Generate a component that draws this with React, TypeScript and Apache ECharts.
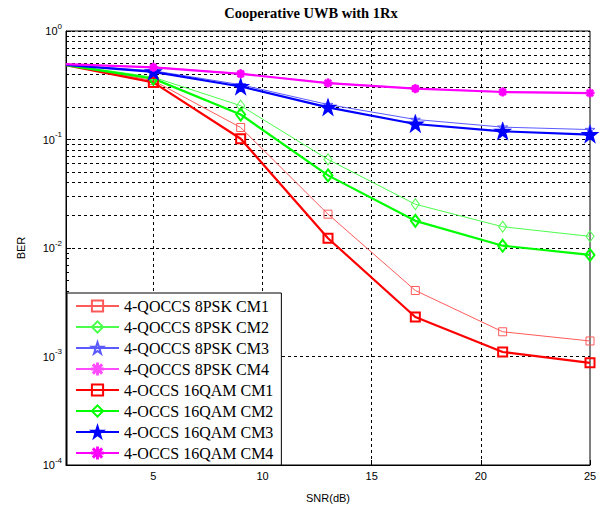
import React, { useEffect, useRef } from "react";
import * as echarts from "echarts";

// ---- data ----
const snr = [1, 5, 9, 13, 17, 21, 25];
const qoccsCM1 = [0.49, 0.349, 0.129, 0.0205, 0.00406, 0.00169, 0.00139];
const qoccsCM2 = [0.49, 0.375, 0.205, 0.0655, 0.0253, 0.0157, 0.0128];
const qoccsCM3 = [0.49, 0.43, 0.32, 0.21, 0.153, 0.13, 0.1235];
const qoccsCM4 = [0.492, 0.465, 0.405, 0.333, 0.296, 0.276, 0.27];
const occsCM1 = [0.485, 0.336, 0.1015, 0.0123, 0.00231, 0.0011, 0.000875];
const occsCM2 = [0.485, 0.364, 0.17, 0.0467, 0.0178, 0.0105, 0.00863];
const occsCM3 = [0.487, 0.42, 0.308, 0.198, 0.139, 0.119, 0.111];
const occsCM4 = [0.495, 0.463, 0.403, 0.331, 0.294, 0.274, 0.268];

const seriesNames = [
  "4-QOCCS 8PSK CM1",
  "4-QOCCS 8PSK CM2",
  "4-QOCCS 8PSK CM3",
  "4-QOCCS 8PSK CM4",
  "4-OCCS 16QAM CM1",
  "4-OCCS 16QAM CM2",
  "4-OCCS 16QAM CM3",
  "4-OCCS 16QAM CM4",
];
const xTicks = [5, 10, 15, 20, 25];
const xGrid = [5, 10, 15, 20];
const decades = [-4, -3, -2, -1];
const mantissas = [2, 3, 4, 5, 6, 7, 8, 9];
const titleText = "Cooperative UWB with 1Rx";

const STAR =
  "path://M50,0 L61.8,35.3 L98.9,35.3 L69,57.1 L80.3,92.7 L50,70.9 L19.7,92.7 L31,57.1 L1.1,35.3 L38.2,35.3 Z";
const ASTER =
  "path://M46,0 L54,0 L54,100 L46,100 Z M0,46 L100,46 L100,54 L0,54 Z M18,12 L88,82 L82,88 L12,18 Z M82,12 L88,18 L18,88 L12,82 Z";

export default function App() {
  const ref = useRef<HTMLDivElement>(null);
  useEffect(() => {
    document.body.style.margin = "0";
    if (!ref.current) return;
    const chart = echarts.init(ref.current, null, { renderer: "svg" });

    const minorVals: number[] = [];
    decades.forEach((e) => mantissas.forEach((m) => minorVals.push(m * Math.pow(10, e))));

    const dashed = { color: "#000", type: [3, 3] as any, width: 1 };

    const mk = (
      name: string,
      data: number[],
      color: string,
      thick: boolean,
      symbol: string,
      size: any,
      filled: boolean
    ) => ({
      name,
      type: "line",
      data: snr.map((x, i) =>
        i === 0 ? { value: [x, data[i]], symbol: "none" } : { value: [x, data[i]] }
      ),
      symbol,
      symbolSize: size,
      showAllSymbol: true,
      z: thick ? 4 : 3,
      lineStyle: { color, width: thick ? 2.2 : 1 },
      itemStyle: {
        color: filled ? color : "rgba(255,255,255,0)",
        borderColor: color,
        borderWidth: thick ? 2 : 1,
      },
      emphasis: { disabled: true },
    });

    const series: any[] = [
      mk(seriesNames[0], qoccsCM1, "#ff5a5a", false, "rect", 8, false),
      mk(seriesNames[1], qoccsCM2, "#4cff4c", false, "diamond", [8, 11], false),
      mk(seriesNames[2], qoccsCM3, "#5a5aff", false, STAR, 10, false),
      mk(seriesNames[3], qoccsCM4, "#ff4cff", false, ASTER, 8, true),
      mk(seriesNames[4], occsCM1, "#ff0000", true, "rect", 9, false),
      mk(seriesNames[5], occsCM2, "#00ff00", true, "diamond", [9, 12], false),
      mk(seriesNames[6], occsCM3, "#0000ff", true, STAR, 13, true),
      mk(seriesNames[7], occsCM4, "#ff00ff", true, ASTER, 7, true),
      {
        name: "grid",
        type: "line",
        data: [],
        z: 1,
        markLine: {
          silent: true,
          symbol: "none",
          z: 1,
          animation: false,
          label: { show: false },
          lineStyle: dashed,
          emphasis: { disabled: true },
          data: [
            ...minorVals.map((v) => ({ yAxis: v })),
            ...xGrid.map((v) => ({ xAxis: v })),
          ],
        },
      },
    ];

    chart.setOption({
      animation: false,
      backgroundColor: "#fff",
      graphic: [
        {
          type: "text",
          x: 311,
          y: 13,
          style: {
            text: titleText,
            align: "center",
            verticalAlign: "middle",
            fontFamily: "Liberation Serif",
            fontWeight: "bold",
            fontSize: 14.5,
            fill: "#000",
          },
        },
      ],
      grid: {
        left: 66,
        right: 18,
        top: 31,
        bottom: 41,
        show: true,
        borderColor: "#000",
        borderWidth: 1,
        backgroundColor: "#fff",
      },
      legend: {
        data: seriesNames,
        orient: "vertical",
        left: 67,
        top: 293,
        padding: [5, 8, 4, 8],
        itemWidth: 43,
        itemHeight: 14,
        itemGap: 5,
        backgroundColor: "#fff",
        borderColor: "#000",
        borderWidth: 1,
        borderRadius: 0,
        selectedMode: false,
        textStyle: { fontFamily: "Liberation Serif", fontSize: 16, color: "#000" },
      },
      xAxis: {
        type: "value",
        min: 1,
        max: 25,
        name: "SNR(dB)",
        nameLocation: "middle",
        nameGap: 27,
        nameTextStyle: { fontFamily: "Liberation Sans", fontSize: 11, color: "#000" },
        axisLine: { show: true, lineStyle: { color: "#000" } },
        axisTick: { show: true, inside: true, length: 5, customValues: xTicks, lineStyle: { color: "#000" } },
        axisLabel: {
          customValues: xTicks,
          color: "#000",
          fontFamily: "Liberation Sans",
          fontSize: 11,
          margin: 5,
        },
        splitLine: { show: false },
      },
      yAxis: [
        {
          type: "log",
          logBase: 10,
          min: 1e-4,
          max: 1,
          name: "BER",
          nameLocation: "middle",
          nameGap: 40,
          nameRotate: 90,
          nameTextStyle: { fontFamily: "Liberation Sans", fontSize: 11, color: "#000" },
          axisLine: { show: true, lineStyle: { color: "#000" } },
          axisTick: { show: true, inside: true, length: 5, lineStyle: { color: "#000" } },
          minorTick: { show: false },
          splitLine: { show: true, lineStyle: dashed },
          axisLabel: {
            margin: 4,
            formatter: (v: number) => {
              const e = Math.round(Math.log10(v));
              return `{b|10}{s|${e}}`;
            },
            rich: {
              b: { fontFamily: "Liberation Sans", fontSize: 11, color: "#000", lineHeight: 18 },
              s: { fontFamily: "Liberation Sans", fontSize: 8, color: "#000", lineHeight: 8, verticalAlign: "top" },
            },
          },
        },
        {
          type: "log",
          logBase: 10,
          min: 1e-4,
          max: 1,
          position: "left",
          axisLine: { show: false },
          axisLabel: { show: false },
          splitLine: { show: false },
          axisTick: { show: true, inside: true, length: 3, customValues: minorVals, lineStyle: { color: "#000" } },
        },
      ],
      series,
    });
    return () => chart.dispose();
  }, []);
  return <div ref={ref} style={{ width: 608, height: 508 }} />;
}
